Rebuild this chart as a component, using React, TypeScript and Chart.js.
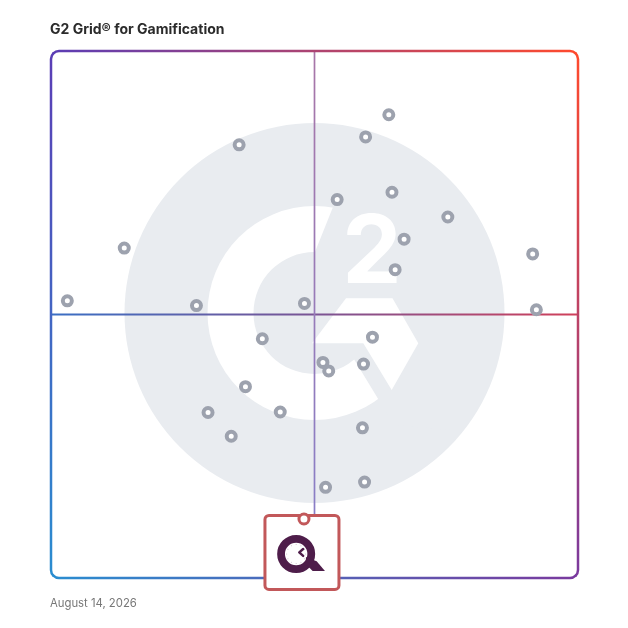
import React, { useEffect, useRef } from "react";
import { Chart, registerables } from "chart.js";

Chart.register(...registerables);

const TITLE = "G2 Grid® for Gamification";
const DATE_TEXT = "August 14, 2026";

// Satisfaction (x) and Market Presence (y), 0–100
const SATISFACTION = [3.1, 13.9, 27.6, 35.7, 48.1, 40.1, 36.9, 29.8, 34.2, 43.5, 51.6, 52.7, 52.1, 59.5, 59.1, 59.3, 61.0, 59.7, 64.1, 54.3, 64.7, 75.3, 67.0, 65.3, 91.4, 92.1];
const MARKET_PRESENCE = [52.6, 62.6, 51.7, 82.2, 52.1, 45.4, 36.3, 31.4, 26.9, 31.5, 40.9, 39.3, 17.2, 18.2, 28.5, 40.6, 45.7, 83.7, 87.9, 71.8, 73.2, 68.5, 64.3, 58.5, 61.5, 50.9];
const FEATURED_SATISFACTION = [48.0];
const FEATURED_PRESENCE = [11.2];

const AXIS_MIN = 0;
const AXIS_MAX = 100;
const AXIS_MID = 50;

const WM_GRAY = "#e9ecf0";
const POINT_GRAY = "#9da2ae";
const CARD_RED = "#c2585a";
const Q_PLUM = "#4e1d4a";

function poly(ctx: CanvasRenderingContext2D, cx: number, cy: number, s: number, pts: number[][]) {
  ctx.beginPath();
  pts.forEach((p, i) => {
    const x = cx + p[0] * s;
    const y = cy + p[1] * s;
    if (i === 0) ctx.moveTo(x, y);
    else ctx.lineTo(x, y);
  });
  ctx.closePath();
  ctx.fill();
}

function drawWatermark(ctx: CanvasRenderingContext2D, cx: number, cy: number, s: number) {
  ctx.save();
  ctx.fillStyle = WM_GRAY;
  ctx.beginPath();
  ctx.arc(cx, cy, 190 * s, 0, Math.PI * 2);
  ctx.fill();
  // white C ring
  ctx.fillStyle = "#ffffff";
  ctx.beginPath();
  ctx.arc(cx, cy, 107 * s, 0, Math.PI * 2);
  ctx.arc(cx, cy, 61 * s, 0, Math.PI * 2, true);
  ctx.fill();
  // opening of the C
  ctx.fillStyle = WM_GRAY;
  poly(ctx, cx, cy, s, [
    [0, 0], [0.5, -61], [26.5, -126], [135.5, -126], [135.5, 117], [79.5, 112], [37.1, 42.3],
  ]);
  // chevron
  ctx.fillStyle = "#ffffff";
  poly(ctx, cx, cy, s, [
    [31.5, -14.7], [78, -14.7], [103.8, 30.3], [77.2, 77], [48.8, 30.3], [-2.5, 30.3],
  ]);
  // the "2"
  ctx.font = "700 100px Inter, 'DejaVu Sans', sans-serif";
  ctx.textAlign = "left";
  ctx.textBaseline = "alphabetic";
  const m = ctx.measureText("2");
  const gw = m.actualBoundingBoxLeft + m.actualBoundingBoxRight;
  const gh = m.actualBoundingBoxAscent + m.actualBoundingBoxDescent;
  ctx.translate(cx + 32.5 * s, cy - 100 * s);
  ctx.scale((50 * s) / gw, (70 * s) / gh);
  ctx.fillText("2", m.actualBoundingBoxLeft, m.actualBoundingBoxAscent);
  ctx.restore();
}

function drawFrame(ctx: CanvasRenderingContext2D, L: number, T: number, R: number, B: number) {
  const r = 8;
  const cTL = "#5b3db5";
  const cTR = "#ff4a2d";
  const cBR = "#7a3a9e";
  const cBL = "#2a8dd0";
  const P = Math.PI;
  ctx.save();
  ctx.lineWidth = 2.5;
  ctx.lineCap = "round";
  const side = (x0: number, y0: number, x1: number, y1: number, c0: string, c1: string, build: () => void) => {
    const g = ctx.createLinearGradient(x0, y0, x1, y1);
    g.addColorStop(0, c0);
    g.addColorStop(1, c1);
    ctx.strokeStyle = g;
    ctx.beginPath();
    build();
    ctx.stroke();
  };
  side(L, T, R, T, cTL, cTR, () => {
    ctx.arc(L + r, T + r, r, 1.25 * P, 1.5 * P);
    ctx.lineTo(R - r, T);
    ctx.arc(R - r, T + r, r, 1.5 * P, 1.75 * P);
  });
  side(R, T, R, B, cTR, cBR, () => {
    ctx.arc(R - r, T + r, r, 1.75 * P, 2 * P);
    ctx.lineTo(R, B - r);
    ctx.arc(R - r, B - r, r, 0, 0.25 * P);
  });
  side(R, B, L, B, cBR, cBL, () => {
    ctx.arc(R - r, B - r, r, 0.25 * P, 0.5 * P);
    ctx.lineTo(L + r, B);
    ctx.arc(L + r, B - r, r, 0.5 * P, 0.75 * P);
  });
  side(L, B, L, T, cBL, cTL, () => {
    ctx.arc(L + r, B - r, r, 0.75 * P, P);
    ctx.lineTo(L, T + r);
    ctx.arc(L + r, T + r, r, P, 1.25 * P);
  });
  ctx.restore();
}

const backgroundPlugin = {
  id: "g2Background",
  beforeDatasetsDraw(chart: any) {
    const { ctx, chartArea: a, scales } = chart;
    const s = (a.right - a.left) / 527;
    const mx = scales.x.getPixelForValue(AXIS_MID);
    const my = scales.y.getPixelForValue(AXIS_MID);
    drawWatermark(ctx, mx, my - 1.5 * s, s);

    ctx.save();
    // horizontal quadrant line
    const gh = ctx.createLinearGradient(a.left, 0, a.right, 0);
    gh.addColorStop(0, "#3a6fc4");
    gh.addColorStop(0.5, "#7a5494");
    gh.addColorStop(1, "#d0405a");
    ctx.strokeStyle = gh;
    ctx.lineWidth = 2;
    ctx.beginPath();
    ctx.moveTo(a.left, my);
    ctx.lineTo(a.right, my);
    ctx.stroke();
    // vertical quadrant line
    const gv = ctx.createLinearGradient(0, a.top, 0, a.bottom);
    gv.addColorStop(0, "#a876a8");
    gv.addColorStop(1, "#857fca");
    ctx.strokeStyle = gv;
    ctx.lineWidth = 1.7;
    ctx.beginPath();
    ctx.moveTo(mx, a.top);
    ctx.lineTo(mx, a.bottom);
    ctx.stroke();
    ctx.restore();

    drawFrame(ctx, a.left, a.top, a.right, a.bottom);
  },
  afterDatasetsDraw(chart: any) {
    const { ctx } = chart;
    const meta = chart.getDatasetMeta(1);
    meta.data.forEach((el: any) => {
      const px = el.x;
      const py = el.y;
      ctx.save();
      // card
      const left = px - 39;
      const top = py - 3.5;
      const w = 74;
      const h = 74;
      ctx.lineWidth = 3;
      ctx.strokeStyle = CARD_RED;
      ctx.fillStyle = "#ffffff";
      ctx.beginPath();
      (ctx as any).roundRect(left, top, w, h, 4);
      ctx.fill();
      ctx.stroke();
      // pin circle
      ctx.beginPath();
      ctx.arc(px, py, 5, 0, Math.PI * 2);
      ctx.fill();
      ctx.stroke();
      // Q logo
      const qx = px - 7.8;
      const qy = py + 35;
      ctx.strokeStyle = Q_PLUM;
      ctx.fillStyle = Q_PLUM;
      ctx.lineWidth = 7.8;
      ctx.beginPath();
      ctx.arc(qx, qy, 15.1, 0, Math.PI * 2);
      ctx.stroke();
      ctx.beginPath();
      ctx.moveTo(qx + 9.8, qy + 3);
      ctx.lineTo(qx + 20.5, qy + 7.2);
      ctx.lineTo(qx + 28.8, qy + 17);
      ctx.lineTo(qx + 16.5, qy + 17);
      ctx.lineTo(qx + 9.8, qy + 10.3);
      ctx.closePath();
      ctx.fill();
      // tiny clock ticks
      ctx.fillStyle = "#c9b9c7";
      for (let i = 0; i < 12; i++) {
        const ang = (i / 12) * Math.PI * 2;
        ctx.beginPath();
        ctx.arc(qx + Math.cos(ang) * 9.5, qy + Math.sin(ang) * 9.5, 0.55, 0, Math.PI * 2);
        ctx.fill();
      }
      // clock hand chevron
      ctx.lineWidth = 2.4;
      ctx.lineCap = "round";
      ctx.lineJoin = "round";
      ctx.beginPath();
      ctx.moveTo(qx + 7, qy - 5);
      ctx.lineTo(qx + 3.1, qy - 1.6);
      ctx.lineTo(qx + 7, qy + 2);
      ctx.stroke();
      ctx.restore();
    });
  },
};

export default function App() {
  const canvasRef = useRef<HTMLCanvasElement | null>(null);

  useEffect(() => {
    const canvas = canvasRef.current;
    if (!canvas) return;
    const chart = new Chart(canvas, {
      type: "scatter",
      data: {
        datasets: [
          {
            label: "Products",
            data: SATISFACTION.map((x, i) => ({ x, y: MARKET_PRESENCE[i] })),
            pointRadius: 4.5,
            pointBorderWidth: 4,
            pointBorderColor: POINT_GRAY,
            pointBackgroundColor: "#ffffff",
            pointHoverRadius: 4.5,
          },
          {
            label: "Featured",
            data: FEATURED_SATISFACTION.map((x, i) => ({ x, y: FEATURED_PRESENCE[i] })),
            pointRadius: 0,
            pointHoverRadius: 0,
          },
        ],
      },
      options: {
        responsive: false,
        maintainAspectRatio: false,
        animation: false,
        layout: { padding: { left: 51, top: 51, right: 50, bottom: 50 } },
        scales: {
          x: { type: "linear", min: AXIS_MIN, max: AXIS_MAX, display: false },
          y: { type: "linear", min: AXIS_MIN, max: AXIS_MAX, display: false },
        },
        plugins: {
          legend: { display: false },
          tooltip: { enabled: false },
        },
      },
      plugins: [backgroundPlugin],
    });
    return () => chart.destroy();
  }, []);

  return (
    <div
      style={{
        position: "fixed",
        left: 0,
        top: 0,
        width: 628,
        height: 628,
        background: "#ffffff",
        fontFamily: "Inter, 'Noto Sans', sans-serif",
      }}
    >
      <canvas
        ref={canvasRef}
        width={628}
        height={628}
        style={{ position: "absolute", left: 0, top: 0, width: 628, height: 628 }}
      />
      <div
        style={{
          position: "absolute",
          left: 50,
          top: 22,
          fontSize: 14,
          lineHeight: "14px",
          fontWeight: 700,
          color: "#2b2b2b",
          whiteSpace: "nowrap",
        }}
      >
        {TITLE}
      </div>
      <div
        style={{
          position: "absolute",
          left: 50,
          top: 598,
          fontSize: 11.3,
          lineHeight: "11px",
          color: "#777777",
          whiteSpace: "nowrap",
        }}
      >
        {DATE_TEXT}
      </div>
    </div>
  );
}
